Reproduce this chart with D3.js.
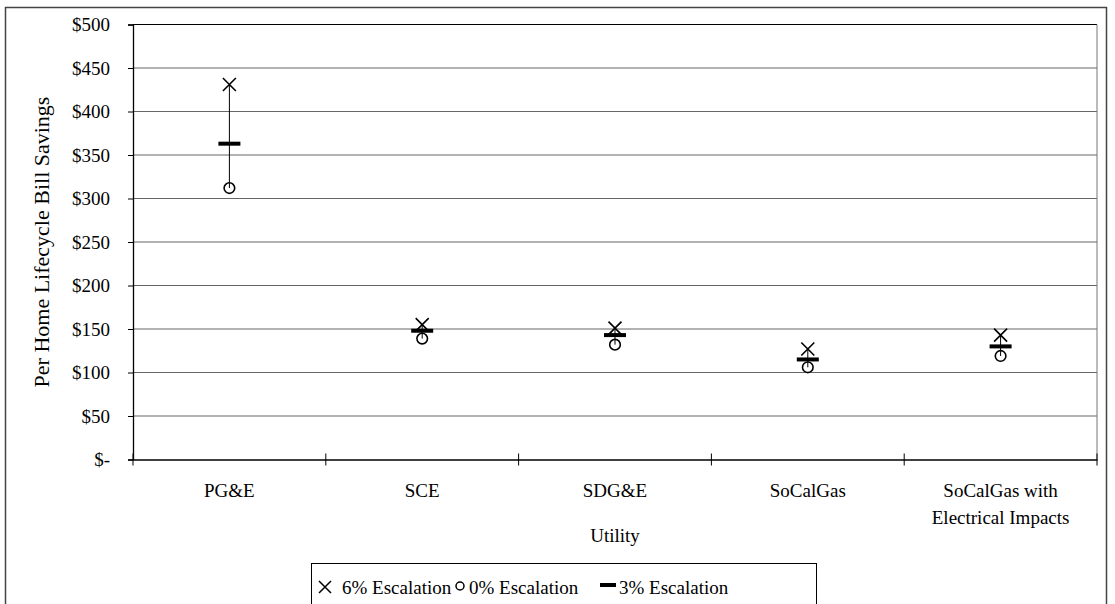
<!DOCTYPE html>
<html>
<head>
<meta charset="utf-8">
<script src="https://cdn.jsdelivr.net/npm/d3@7"></script>
<style>
  body { margin: 0; background: #fff; }
  svg text { font-family: "Liberation Serif", "Times New Roman", serif; fill: #000; }
</style>
</head>
<body>
<script>
// values
var utilities = ["PG&E", "SCE", "SDG&E", "SoCalGas", "SoCalGas with Electrical Impacts"];
var labelLines = [["PG&E"], ["SCE"], ["SDG&E"], ["SoCalGas"], ["SoCalGas with", "Electrical Impacts"]];
var esc6 = [431, 155, 151, 127, 143];
var esc0 = [312, 139, 132, 106, 119];
var esc3 = [363, 148, 143, 115, 130];
var yTicks = [0, 50, 100, 150, 200, 250, 300, 350, 400, 450, 500];

var w = 1115, h = 604;
var plotL = 133, plotR = 1097, plotT = 24.5, plotB = 459.5;

var svg = d3.select("body").append("svg")
    .attr("width", w)
    .attr("height", h);

// outer chart border
svg.append("rect")
    .attr("x", 5.5).attr("y", 7.5)
    .attr("width", 1101).attr("height", 640)
    .attr("fill", "none")
    .attr("stroke", "#444")
    .attr("stroke-width", 1.5);

var x = d3.scaleBand().domain(utilities).range([plotL, plotR]);
var y = d3.scaleLinear().domain([0, 500]).range([plotB, plotT]);

// gridlines
svg.append("g").selectAll("line")
    .data(yTicks.filter(function(d) { return d > 0; }))
    .enter().append("line")
    .attr("x1", plotL).attr("x2", plotR)
    .attr("y1", function(d) { return y(d); })
    .attr("y2", function(d) { return y(d); })
    .attr("stroke", function(d) { return d == 500 ? "#000" : "#666"; })
    .attr("stroke-width", 1.2);

// plot area right edge
svg.append("line")
    .attr("x1", plotR).attr("x2", plotR)
    .attr("y1", plotT).attr("y2", plotB)
    .attr("stroke", "#777");

// y axis
var yAxis = svg.append("g")
    .attr("transform", "translate(" + plotL + ",0)")
    .call(d3.axisLeft(y)
        .tickValues(yTicks)
        .tickSize(5)
        .tickPadding(18)
        .tickFormat(function(d) { return d == 0 ? "$-" : "$" + d; }));
yAxis.select(".domain").attr("stroke", "#000").attr("stroke-width", 1.3);
yAxis.selectAll(".tick line").attr("stroke", "#000");
yAxis.selectAll("text")
    .attr("font-size", "19px")
    .attr("font-family", "Liberation Serif, serif")
    .attr("fill", "#000");

// x axis
var xAxis = svg.append("g")
    .attr("transform", "translate(0," + plotB + ")")
    .call(d3.axisBottom(x).tickSize(0).tickPadding(0).tickFormat(""));
xAxis.select(".domain").attr("stroke", "#000").attr("stroke-width", 1.3);

// category boundary tick marks
var bounds = utilities.map(function(d) { return x(d); }).concat([plotR]);
svg.append("g").selectAll("line")
    .data(bounds)
    .enter().append("line")
    .attr("x1", function(d) { return d; })
    .attr("x2", function(d) { return d; })
    .attr("y1", plotB - 6)
    .attr("y2", plotB + 6)
    .attr("stroke", "#000");

// category labels
svg.append("g").selectAll("text")
    .data(utilities)
    .enter().append("text")
    .attr("x", function(d) { return x(d) + x.bandwidth() / 2; })
    .attr("y", 497)
    .attr("text-anchor", "middle")
    .attr("font-size", "19px")
    .each(function(d, i) {
        var t = d3.select(this);
        labelLines[i].forEach(function(line, j) {
            t.append("tspan")
                .attr("x", x(d) + x.bandwidth() / 2)
                .attr("dy", j == 0 ? 0 : 27)
                .text(line);
        });
    });

// axis titles
svg.append("text")
    .attr("x", (plotL + plotR) / 2)
    .attr("y", 542)
    .attr("text-anchor", "middle")
    .attr("font-size", "19px")
    .text("Utility");

svg.append("text")
    .attr("transform", "translate(49," + (plotT + plotB) / 2 + ") rotate(-90)")
    .attr("text-anchor", "middle")
    .attr("font-size", "22px")
    .text("Per Home Lifecycle Bill Savings");

// points
var pts = utilities.map(function(u, i) {
    return { u: u, hi: esc6[i], lo: esc0[i], mid: esc3[i] };
});
var cx = function(d) { return x(d.u) + x.bandwidth() / 2; };
var g = svg.append("g");

// high-low lines
g.selectAll(".hilo")
    .data(pts)
    .enter().append("line")
    .attr("class", "hilo")
    .attr("x1", cx).attr("x2", cx)
    .attr("y1", function(d) { return y(d.hi); })
    .attr("y2", function(d) { return y(d.lo); })
    .attr("stroke", "#000")
    .attr("stroke-width", 1);

// 6% - x marks
g.selectAll(".xm")
    .data(pts)
    .enter().append("path")
    .attr("class", "xm")
    .attr("d", function(d) {
        var px = cx(d), py = y(d.hi), s = 6.5;
        return "M" + (px - s) + "," + (py - s) + "L" + (px + s) + "," + (py + s) +
               "M" + (px - s) + "," + (py + s) + "L" + (px + s) + "," + (py - s);
    })
    .attr("stroke", "#000")
    .attr("stroke-width", 1.6)
    .attr("fill", "none");

// 0% - circles
g.selectAll(".cm")
    .data(pts)
    .enter().append("circle")
    .attr("class", "cm")
    .attr("cx", cx)
    .attr("cy", function(d) { return y(d.lo); })
    .attr("r", 5.3)
    .attr("stroke", "#000")
    .attr("stroke-width", 1.6)
    .attr("fill", "#fff");

// line shows through the top half of the circle
g.selectAll(".hilo2")
    .data(pts)
    .enter().append("line")
    .attr("x1", cx).attr("x2", cx)
    .attr("y1", function(d) { return y(d.lo) - 5; })
    .attr("y2", function(d) { return y(d.lo); })
    .attr("stroke", "#000")
    .attr("stroke-width", 1);

// 3% - dashes
g.selectAll(".dm")
    .data(pts)
    .enter().append("line")
    .attr("class", "dm")
    .attr("x1", function(d) { return cx(d) - 11; })
    .attr("x2", function(d) { return cx(d) + 11; })
    .attr("y1", function(d) { return y(d.mid); })
    .attr("y2", function(d) { return y(d.mid); })
    .attr("stroke", "#000")
    .attr("stroke-width", 4);

// legend
var leg = svg.append("g");
leg.append("rect")
    .attr("x", 311.5).attr("y", 563.5)
    .attr("width", 505).attr("height", 60)
    .attr("fill", "#fff")
    .attr("stroke", "#000");

var legItems = [
    { type: "x", label: "6% Escalation", mx: 325, tx: 342 },
    { type: "o", label: "0% Escalation", mx: 460, tx: 469 },
    { type: "d", label: "3% Escalation", mx: 608, tx: 619 }
];
var ly = 587;
legItems.forEach(function(it) {
    if (it.type == "x") {
        var s = 6;
        leg.append("path")
            .attr("d", "M" + (it.mx - s) + "," + (ly - s) + "L" + (it.mx + s) + "," + (ly + s) +
                       "M" + (it.mx - s) + "," + (ly + s) + "L" + (it.mx + s) + "," + (ly - s))
            .attr("stroke", "#000").attr("stroke-width", 1.5);
    } else if (it.type == "o") {
        leg.append("circle")
            .attr("cx", it.mx).attr("cy", ly - 1).attr("r", 4)
            .attr("fill", "none").attr("stroke", "#000").attr("stroke-width", 1.5);
    } else {
        leg.append("line")
            .attr("x1", it.mx - 8).attr("x2", it.mx + 8)
            .attr("y1", ly - 2).attr("y2", ly - 2)
            .attr("stroke", "#000").attr("stroke-width", 4);
    }
    leg.append("text")
        .attr("x", it.tx)
        .attr("y", 594)
        .attr("font-size", "19px")
        .text(it.label);
});
</script>
</body>
</html>
